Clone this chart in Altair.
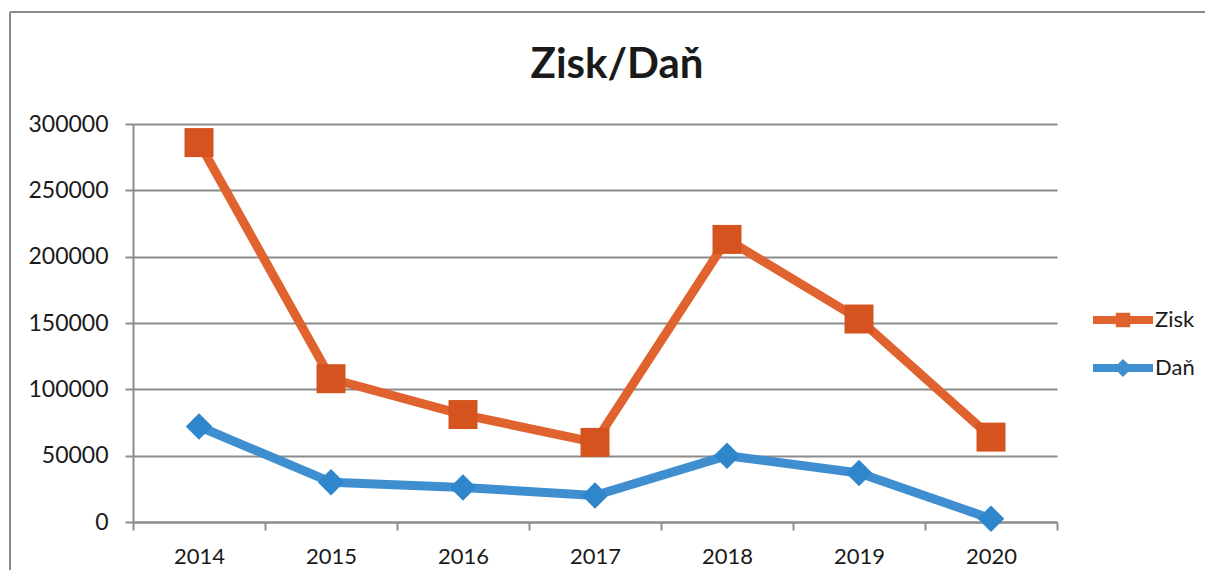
import altair as alt
import pandas as pd

years = ["2014", "2015", "2016", "2017", "2018", "2019", "2020"]
zisk = [286000, 108000, 81000, 60000, 213000, 153000, 64000]
dan = [72000, 30000, 26000, 20000, 50000, 37000, 2500]
series = ["Zisk", "Daň"]
y_ticks = [0, 50000, 100000, 150000, 200000, 250000, 300000]

rows = []
for s, vals in zip(series, [zisk, dan]):
    for yr, v in zip(years, vals):
        rows.append({"year": yr, "value": v, "series": s})
df = pd.DataFrame(rows)

line_colors = ["#E0622E", "#3F8FD0"]
point_colors = ["#D4531F", "#2F86CA"]
FONT = "Lato"
GRID = "#8c8c8c"

x_enc = alt.X("year:N", title=None, bandPosition=0.5,
              scale=alt.Scale(type="band", paddingInner=0, paddingOuter=0),
              axis=alt.Axis(labelAngle=0, tickBand="extent", grid=False, tickSize=8,
                            labelPadding=16, domainColor=GRID, tickColor=GRID,
                            domainWidth=2, tickWidth=2, labelFontSize=22, labelFont=FONT,
                            labelColor="#1a1a1a"))
y_enc = alt.Y("value:Q", title=None,
              scale=alt.Scale(domain=[0, 300000], nice=False),
              axis=alt.Axis(values=y_ticks, format="d", tickSize=8, labelPadding=17,
                            gridColor=GRID, gridWidth=2, domainColor=GRID, tickColor=GRID,
                            domainWidth=2, tickWidth=2, labelFontSize=23, labelFont=FONT,
                            labelColor="#1a1a1a"))

base = alt.Chart(df)

lines = base.mark_line(strokeWidth=9, strokeJoin="round", strokeCap="round").encode(
    x=x_enc, y=y_enc,
    color=alt.Color("series:N", scale=alt.Scale(domain=series, range=line_colors), legend=None),
)

points = base.mark_point(filled=True, opacity=1).encode(
    x=x_enc, y=y_enc,
    color=alt.Color("series:N", scale=alt.Scale(domain=series, range=point_colors), legend=None),
    shape=alt.Shape("series:N", scale=alt.Scale(domain=series, range=["square", "diamond"]), legend=None),
    size=alt.Size("series:N", scale=alt.Scale(domain=series, range=[840, 700]), legend=None),
)

path_z = "M-1.25,-0.17L1.25,-0.17L1.25,0.17L-1.25,0.17Z M-0.3,-0.3L0.3,-0.3L0.3,0.3L-0.3,0.3Z"
path_d = "M-1.25,-0.17L1.25,-0.17L1.25,0.17L-1.25,0.17Z M0,-0.38L0.38,0L0,0.38L-0.38,0Z"

leg = alt.Legend(title=None, orient="none", legendX=966, legendY=172,
                 labelFontSize=22, labelFont=FONT, labelColor="#1a1a1a",
                 labelOffset=8, rowPadding=13, symbolStrokeWidth=0, symbolSize=2304)

legend_layer = base.transform_filter("datum.value < 0").mark_point(
    filled=True, opacity=1, size=2304).encode(
    color=alt.Color("series:N", scale=alt.Scale(domain=series, range=line_colors), legend=leg),
    shape=alt.Shape("series:N", scale=alt.Scale(domain=series, range=[path_z, path_d]), legend=leg),
)

frame_left = alt.Chart(df).mark_rule(color="#8a8a8a", strokeWidth=2).encode(
    x=alt.value(-123), y=alt.value(-112), y2=alt.value(600))
frame_top = alt.Chart(df).mark_rule(color="#8a8a8a", strokeWidth=2).encode(
    x=alt.value(-123), x2=alt.value(1200), y=alt.value(-112))

chart = alt.layer(frame_left, frame_top, lines, points, legend_layer).resolve_scale(
    color="independent", shape="independent", size="independent"
).properties(
    width=924, height=398,
    title=alt.TitleParams("Zisk/Daň", font=FONT, fontSize=42, fontWeight="bold",
                          color="#1a1a1a", anchor="middle", dx=22, offset=0, dy=76,
                          frame="group"),
    autosize=alt.AutoSizeParams(type="none"),
    padding={"left": 125, "top": 116, "right": 148, "bottom": 48},
).configure_view(stroke=None)

chart.save("out.html", embed_options={"renderer": "svg", "actions": False})
